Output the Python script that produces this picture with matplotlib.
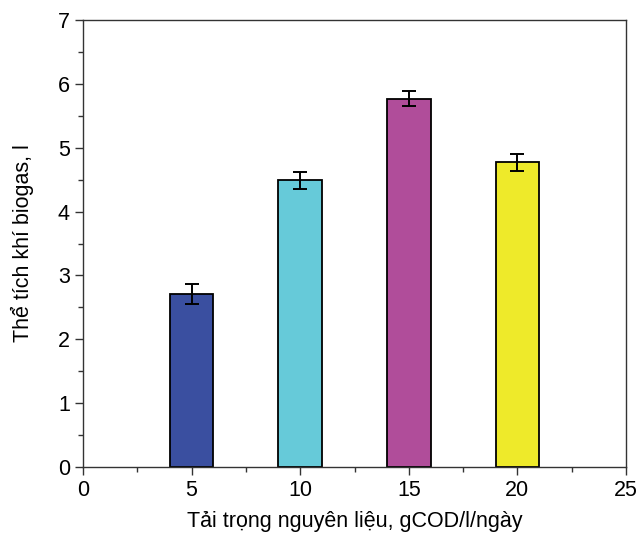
import matplotlib
matplotlib.use("Agg")
import matplotlib.pyplot as plt
from matplotlib.ticker import MultipleLocator

plt.rcParams['font.family'] = ['Liberation Sans', 'DejaVu Sans']

loads = [5, 10, 15, 20]
volumes = [2.71, 4.49, 5.77, 4.77]
errors = [0.15, 0.13, 0.12, 0.13]
colors = ['#3a4fa0', '#66cad9', '#b04d9a', '#eeea2a']

fig = plt.figure(figsize=(6.39, 5.37), dpi=100)
ax = fig.add_axes([83/639, 70/537, 543/639, 447/537])

ax.bar(loads, volumes, width=2.0, color=colors, edgecolor='black', linewidth=1.3,
       yerr=errors, error_kw=dict(ecolor='black', elinewidth=1.4, capsize=5, capthick=1.4), zorder=2)

ax.set_xlim(0, 25)
ax.set_ylim(0, 7)
ax.xaxis.set_major_locator(MultipleLocator(5))
ax.xaxis.set_minor_locator(MultipleLocator(2.5))
ax.yaxis.set_major_locator(MultipleLocator(1))
ax.yaxis.set_minor_locator(MultipleLocator(0.5))
ax.tick_params(which='major', direction='out', length=6, width=1, labelsize=15.5, color='#333333')
ax.tick_params(which='minor', direction='out', length=3.5, width=1, color='#333333')
for s in ax.spines.values():
    s.set_linewidth(1)
    s.set_color('#333333')

ax.set_xlabel('Tải trọng nguyên liệu, gCOD/l/ngày', fontsize=15.5, labelpad=7)
ax.set_ylabel('Thể tích khí biogas, l', fontsize=15.5, labelpad=17)

fig.savefig('out.png', dpi=100)
